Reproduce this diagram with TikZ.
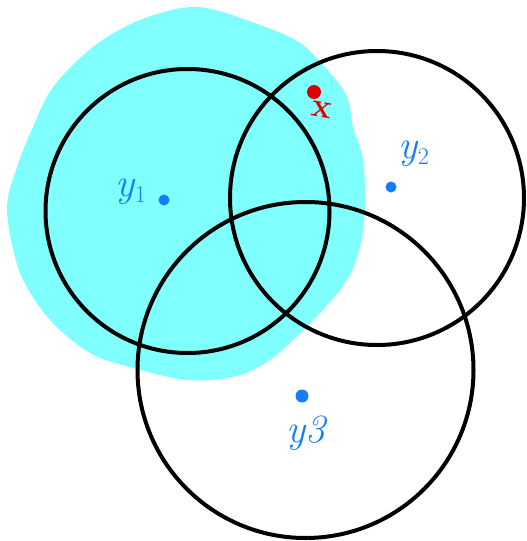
\documentclass[tikz,border=0pt]{standalone}
\usepackage{fontspec}
\begin{document}
\begin{tikzpicture}[x=1pt,y=-1pt,
  ring/.style={draw=black,line width=4pt},
  lbl/.style={text=ptblue,font=\fontsize{40}{44}\selectfont\itshape},
  sub/.style={},
]
\definecolor{ptblue}{RGB}{20,125,250}
\definecolor{ptcyan}{RGB}{128,255,255}
\definecolor{ptred}{RGB}{220,0,0}
\newcommand{\sbx}[1]{\raisebox{-6pt}{\fontsize{24}{26}\selectfont\upshape #1}}
\useasboundingbox (0,0) rectangle (527,541);
% cyan blob
\fill[ptcyan] plot[smooth cycle,tension=0.55] coordinates {
(197,7) (260,25) (300,43) (330,73) (347,97) (353,127) (363,160) (365,207)
(360,247) (347,280) (320,313) (293,340) (267,362) (233,377) (187,380)
(133,368) (90,353) (50,320) (20,273) (7,210) (17,167) (33,127) (53,87)
(93,47) (140,20)};
% circles
\node[ring,circle,minimum size=284pt,inner sep=0pt] (c1) at (187.5,211) {};
\node[ring,circle,minimum size=294pt,inner sep=0pt] (c2) at (377,198) {};
\node[ring,circle,minimum size=336pt,inner sep=0pt] (c3) at (305.5,370) {};
% points
\fill[ptblue] (164,200) circle (5.5);
\fill[ptblue] (391,187) circle (5.5);
\fill[ptblue] (302,396) circle (6.5);
\node[lbl] (l1) at (131,192) {y\sbx{1}};
\node[lbl] (l2) at (414,154) {y\sbx{2}};
\node[lbl] (l3) at (306,433) {y3};
\fill[ptred] (314,92) circle (7);
\node[text=ptred,font=\fontsize{34}{36}\selectfont\bfseries,rotate=-10] (x) at (322,110) {x};
\end{tikzpicture}
\end{document}
